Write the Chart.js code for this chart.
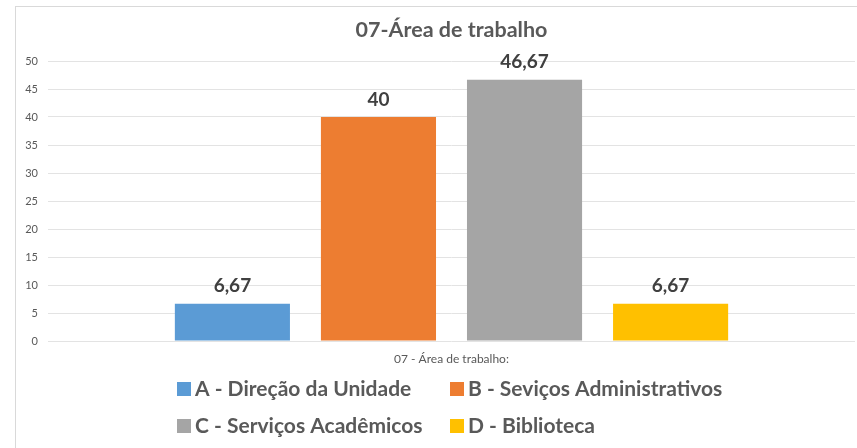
<!DOCTYPE html>
<html>
<head>
<meta charset="utf-8">
<script src="https://cdn.jsdelivr.net/npm/chart.js@4/dist/chart.umd.min.js"></script>
<style>
  body { margin: 0; background: #fff; }
  #frame { position: absolute; left: 15px; top: 6px; width: 900px; height: 500px; border: 1px solid #d9d9d9; }
  #wrap { position: absolute; left: 0; top: 0; width: 857px; height: 448px; }
</style>
</head>
<body>
<div id="frame"></div>
<div id="wrap"><canvas id="grafico"></canvas></div>
<script>
const titulo = '07-Área de trabalho';
const categorias = ['07 - Área de trabalho:'];
const series = ['A - Direção da Unidade', 'B - Seviços Administrativos', 'C - Serviços Acadêmicos', 'D - Biblioteca'];
const valores = [6.67, 40, 46.67, 6.67];
const cores = ['#5B9BD5', '#ED7D31', '#A5A5A5', '#FFC000'];
const fonte = 'Lato, "Open Sans", sans-serif';

const fmt = v => String(v).replace('.', ',');

// título centrado sobre a área do gráfico
const cabecalho = {
    id: 'cabecalho',
    afterDraw(chart) {
        const ctx = chart.ctx;
        const a = chart.chartArea;
        ctx.save();
        ctx.font = 'bold 21.5px ' + fonte;
        ctx.fillStyle = '#595959';
        ctx.textAlign = 'center';
        ctx.textBaseline = 'middle';
        ctx.fillText(titulo, (a.left + a.right) / 2, 30);
        ctx.restore();
    }
};

// rótulos de dados acima das barras
const rotulos = {
    id: 'rotulos',
    afterDatasetsDraw(chart) {
        const ctx = chart.ctx;
        ctx.save();
        ctx.font = 'bold 19px ' + fonte;
        ctx.fillStyle = '#404040';
        ctx.textAlign = 'center';
        ctx.textBaseline = 'bottom';
        chart.data.datasets.forEach((ds, i) => {
            chart.getDatasetMeta(i).data.forEach((bar, j) => {
                ctx.fillText(fmt(ds.data[j]), bar.x, bar.y - 8);
            });
        });
        ctx.restore();
    }
};

// legenda em duas colunas
const legenda = {
    id: 'legenda',
    afterDraw(chart) {
        const ctx = chart.ctx;
        const colX = [177, 450];
        const rowY = [389, 426];
        ctx.save();
        ctx.font = 'bold 21px ' + fonte;
        ctx.textBaseline = 'middle';
        ctx.textAlign = 'left';
        chart.data.datasets.forEach((ds, i) => {
            const x = colX[i % 2];
            const y = rowY[Math.floor(i / 2)];
            ctx.fillStyle = ds.backgroundColor;
            ctx.fillRect(x, y - 7, 14, 14);
            ctx.fillStyle = '#595959';
            ctx.fillText(ds.label, x + 18, y);
        });
        ctx.restore();
    }
};

new Chart(document.getElementById('grafico'), {
    type: 'bar',
    data: {
        labels: categorias,
        datasets: series.map((nome, i) => ({
            label: nome,
            data: [valores[i]],
            backgroundColor: cores[i],
            categoryPercentage: 0.724,
            barPercentage: 0.788
        }))
    },
    options: {
        responsive: true,
        maintainAspectRatio: false,
        animation: false,
        layout: { padding: { left: 15, right: 2, top: 61, bottom: 77 } },
        plugins: {
            legend: { display: false },
            tooltip: { enabled: false },
            title: { display: false }
        },
        scales: {
            x: {
                grid: { display: false },
                border: { display: false },
                ticks: { color: '#595959', font: { family: fonte, size: 12 }, padding: 3 },
                afterFit(s) { s.height = 30; }
            },
            y: {
                min: 0,
                max: 50,
                ticks: { stepSize: 5, color: '#595959', font: { family: fonte, size: 11 }, padding: 10 },
                grid: { color: '#e3e3e3', drawTicks: false },
                border: { display: false },
                afterFit(s) { s.width = 33; }
            }
        }
    },
    plugins: [cabecalho, rotulos, legenda]
});
</script>
</body>
</html>
